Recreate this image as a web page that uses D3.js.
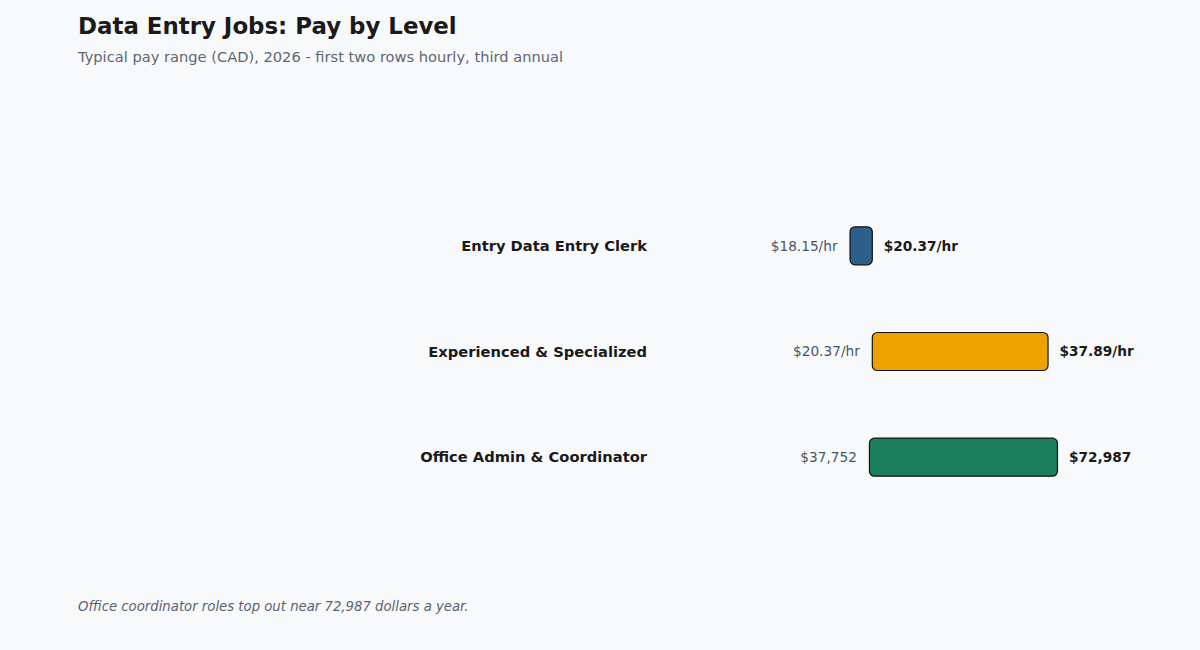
<!DOCTYPE html>
<html><head><meta charset="utf-8">
<script src="https://cdn.jsdelivr.net/npm/d3@7"></script>
<style>
html,body{margin:0;padding:0;background:#f8f9fb;}
svg{display:block;font-family:"DejaVu Sans",sans-serif;}
</style></head>
<body>
<svg id="chart" width="1200" height="650"></svg>
<script>
const categories = ["Entry Data Entry Clerk", "Experienced & Specialized", "Office Admin & Coordinator"];
const lowValues = [18.15, 20.37, 37752];
const highValues = [20.37, 37.89, 72987];
const units = ["hourly", "hourly", "annual"];
const colors = ["#2c5f8a", "#eda200", "#1b7f5d"];

const svg = d3.select("#chart");
svg.append("rect").attr("width",1200).attr("height",650).attr("fill","#f8f9fb");

svg.append("text").attr("x",78).attr("y",34).attr("font-size",22.9).attr("font-weight","bold")
  .attr("fill","#1a1a1a").text("Data Entry Jobs: Pay by Level");
svg.append("text").attr("x",78).attr("y",62).attr("font-size",14.65).attr("fill","#5f6673")
  .text("Typical pay range (CAD), 2026 - first two rows hourly, third annual");
svg.append("text").attr("x",78).attr("y",611).attr("font-size",13.25).attr("font-style","italic")
  .attr("fill","#5a6270").text("Office coordinator roles top out near 72,987 dollars a year.");

const xHourly = d3.scaleLinear().domain([0, 44.07]).range([668, 1110]);
const xAnnual = d3.scaleLinear().domain([0, 82835]).range([668, 1110]);
const y = d3.scaleBand().domain(categories).range([193, 510]).paddingInner(0.64).paddingOuter(0.32);

const fmtH = v => "$" + d3.format(".2f")(v) + "/hr";
const fmtA = v => "$" + d3.format(",.0f")(v);

const rows = categories.map((c,i)=>({c, lo:lowValues[i], hi:highValues[i], u:units[i], col:colors[i]}));

const g = svg.append("g");
rows.forEach(r=>{
  const x = r.u === "hourly" ? xHourly : xAnnual;
  const f = r.u === "hourly" ? fmtH : fmtA;
  const yc = y(r.c) + y.bandwidth()/2;
  g.append("text").attr("x",647).attr("y",yc).attr("dy","0.35em").attr("text-anchor","end")
    .attr("font-size",14.7).attr("font-weight","bold").attr("fill","#1a1a1a").text(r.c);
  g.append("rect").attr("x",x(r.lo)).attr("y",y(r.c)).attr("width",x(r.hi)-x(r.lo))
    .attr("height",y.bandwidth()).attr("rx",5).attr("ry",5)
    .attr("fill",r.col).attr("stroke","#111").attr("stroke-width",1.2);
  g.append("text").attr("x",x(r.lo)-12.5).attr("y",yc).attr("dy","0.35em").attr("text-anchor","end")
    .attr("font-size",13.7).attr("fill","#4a5568").text(f(r.lo));
  g.append("text").attr("x",x(r.hi)+11.5).attr("y",yc).attr("dy","0.35em").attr("text-anchor","start")
    .attr("font-size",13.7).attr("font-weight","bold").attr("fill","#1a1a1a").text(f(r.hi));
});
</script>
</body></html>
